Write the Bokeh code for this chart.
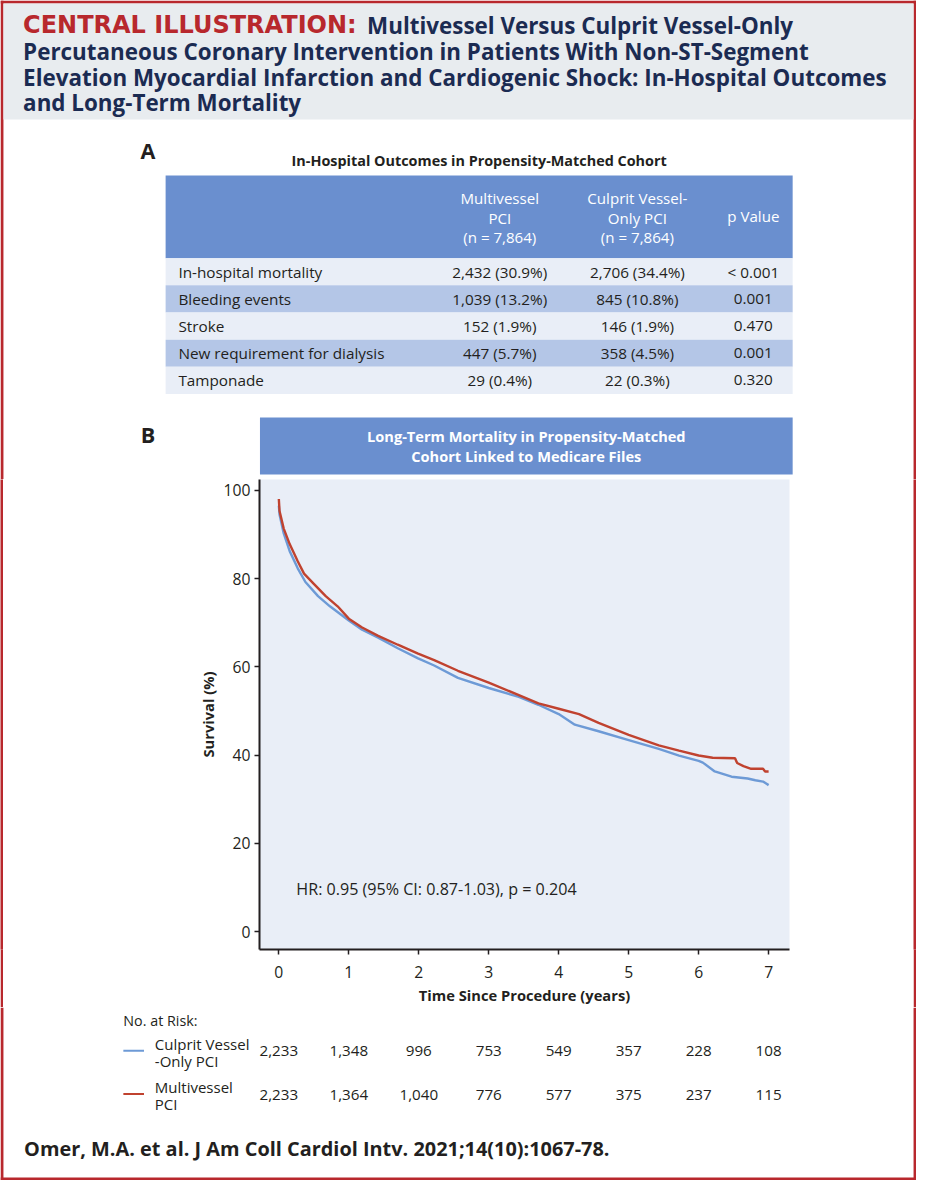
from bokeh.plotting import figure
from bokeh.models import Range1d, FixedTicker
from bokeh.layouts import column, row
from bokeh.core.properties import value
from bokeh.embed import file_html
from bokeh.resources import INLINE

# ---------------- data ----------------
title_red = "CENTRAL ILLUSTRATION:"
title_lines = [
    "Multivessel Versus Culprit Vessel-Only",
    "Percutaneous Coronary Intervention in Patients With Non-ST-Segment",
    "Elevation Myocardial Infarction and Cardiogenic Shock: In-Hospital Outcomes",
    "and Long-Term Mortality",
]
table_title = "In-Hospital Outcomes in Propensity-Matched Cohort"
header_multi = ["Multivessel", "PCI", "(n = 7,864)"]
header_culprit = ["Culprit Vessel-", "Only PCI", "(n = 7,864)"]
header_p = "p Value"
outcomes = ["In-hospital mortality", "Bleeding events", "Stroke",
            "New requirement for dialysis", "Tamponade"]
multivessel_vals = ["2,432 (30.9%)", "1,039 (13.2%)", "152 (1.9%)", "447 (5.7%)", "29 (0.4%)"]
culprit_vals = ["2,706 (34.4%)", "845 (10.8%)", "146 (1.9%)", "358 (4.5%)", "22 (0.3%)"]
p_values = ["< 0.001", "0.001", "0.470", "0.001", "0.320"]

km_title = ["Long-Term Mortality in Propensity-Matched", "Cohort Linked to Medicare Files"]

time_mv = [0, 0.01, 0.07, 0.155, 0.27, 0.36, 0.5, 0.67, 0.84, 1.0, 1.19, 1.42, 1.7, 1.99,
           2.22, 2.56, 3.0, 3.43, 3.71, 4.0, 4.29, 4.57, 5.0, 5.43, 5.72, 6.0, 6.2, 6.52,
           6.55, 6.64, 6.75, 6.92, 6.95, 7.0]
surv_mv = [98.0, 95.3, 91.3, 87.8, 83.9, 81.1, 78.8, 76.0, 73.7, 70.9, 68.9, 67.0, 65.0, 63.0,
           61.5, 59.1, 56.4, 53.6, 51.7, 50.5, 49.3, 47.3, 44.6, 42.2, 41.0, 39.9, 39.4, 39.3,
           38.2, 37.5, 36.9, 36.9, 36.3, 36.3]
time_cv = [0, 0.01, 0.07, 0.155, 0.27, 0.38, 0.56, 0.73, 1.0, 1.19, 1.42, 1.7, 1.99, 2.22,
           2.56, 3.0, 3.43, 3.71, 4.0, 4.23, 4.57, 5.0, 5.43, 5.72, 6.0, 6.06, 6.23, 6.47,
           6.7, 6.81, 6.92, 6.97, 7.0]
surv_cv = [96.5, 94.5, 90.2, 86.2, 82.3, 79.2, 76.0, 73.7, 70.5, 68.4, 66.6, 64.2, 61.9, 60.3,
           57.5, 55.2, 53.2, 51.4, 49.3, 46.9, 45.4, 43.4, 41.4, 39.9, 38.7, 38.3, 36.3, 35.1,
           34.7, 34.3, 34.0, 33.5, 33.2]

x_ticks = [0, 1, 2, 3, 4, 5, 6, 7]
y_ticks = [0, 20, 40, 60, 80, 100]
risk_times = [0, 1, 2, 3, 4, 5, 6, 7]
risk_cv = ["2,233", "1,348", "996", "753", "549", "357", "228", "108"]
risk_mv = ["2,233", "1,364", "1,040", "776", "577", "375", "237", "115"]
risk_labels_cv = ["Culprit Vessel", "-Only PCI"]
risk_labels_mv = ["Multivessel", "PCI"]
hr_text = "HR: 0.95 (95% CI: 0.87-1.03), p = 0.204"
citation = "Omer, M.A. et al. J Am Coll Cardiol Intv. 2021;14(10):1067-78."

# ---------------- style ----------------
FONT = value("Open Sans")
RED = "#b8282d"
NAVY = "#1b2b52"
BAND = "#e8ecef"
HEAD_BLUE = "#6a8fcf"
ROW_LIGHT = "#e9eef7"
ROW_DARK = "#b4c6e7"
PLOT_BG = "#e9eef7"
INK = "#231f20"
C_MV = "#c0422f"
C_CV = "#6d9ad6"

W = 916
S = W / 932.0


def fs(px):
    return "%.1fpx" % (px * S)


def blank(width, height, xr, yr, **kw):
    p = figure(width=width, height=height, x_range=xr, y_range=yr,
               output_backend="svg", toolbar_location=None,
               x_axis_type=None, y_axis_type=None, outline_line_color=None,
               min_border=0, background_fill_color="white", border_fill_color="white", **kw)
    p.grid.visible = False
    return p


def txt(p, x, y, t, size, color=INK, bold=False, align="left", font=FONT, **kw):
    p.text(x=x, y=y, text=t, text_font=font, text_font_size=fs(size),
           text_font_style="bold" if bold else "normal", text_color=color,
           text_align=align, text_baseline="middle", **kw)


# ---------------- top figure: title + table A + panel B title ----------------
H1_REF = 487
f1 = blank(W, round(H1_REF * S), Range1d(0, 932), Range1d(H1_REF, 0))
f1.quad(left=[0, 929, 0], right=[3, 932, 932], top=[0, 0, 0], bottom=[H1_REF, H1_REF, 3],
        fill_color=RED, line_color=None)
f1.quad(left=[3], right=[929], top=[3], bottom=[121], fill_color=BAND, line_color=None)

txt(f1, [23], [25], [title_red], 24.4, RED, True, font=value("DejaVu Sans"))
txt(f1, [373, 23, 23, 23], [25, 51.5, 78, 104], title_lines, 22.8, NAVY, True)

txt(f1, [150], [152], ["A"], 22, INK, True, "center")
txt(f1, [487], [163], [table_title], 14.7, INK, True, "center")

TL, TR = 168, 806
HEAD_T, HEAD_B = 178, 262
ROW_H = 27.6
col_x = [508, 648, 766]
f1.quad(left=[TL], right=[TR], top=[HEAD_T], bottom=[HEAD_B], fill_color=HEAD_BLUE, line_color=None)
tops = [HEAD_B + i * ROW_H for i in range(len(outcomes))]
f1.quad(left=[TL] * len(outcomes), right=[TR] * len(outcomes), top=tops,
        bottom=[t + ROW_H for t in tops],
        fill_color=[ROW_LIGHT if i % 2 == 0 else ROW_DARK for i in range(len(outcomes))],
        line_color=None)
hy = [201, 221, 240.5]
txt(f1, [col_x[0]] * 3, hy, header_multi, 15.4, "white", False, "center")
txt(f1, [col_x[1]] * 3, hy, header_culprit, 15.4, "white", False, "center")
txt(f1, [col_x[2]], [219], [header_p], 15.4, "white", False, "center")
ry = [t + ROW_H / 2 for t in tops]
txt(f1, [181] * len(outcomes), ry, outcomes, 15.6)
txt(f1, [col_x[0]] * len(outcomes), ry, multivessel_vals, 15.6, align="center")
txt(f1, [col_x[1]] * len(outcomes), ry, culprit_vals, 15.6, align="center")
txt(f1, [col_x[2]] * len(outcomes), ry, p_values, 15.6, align="center")

txt(f1, [150], [441], ["B"], 22, INK, True, "center")
f1.quad(left=[264], right=[806], top=[424], bottom=[482], fill_color=HEAD_BLUE, line_color=None)
txt(f1, [535, 535], [443, 463], km_title, 14.9, "white", True, "center")

# ---------------- KM figure ----------------
F2_TOP, F2_BOT = 487, 1024
H2 = round((F2_BOT - F2_TOP) * S)
W2 = W - 6
ML = round((263 - 3) * S)
MR = round((929 - 803) * S)
MB = H2 - round((970 - F2_TOP) * S)
T0_PX, PPY = 282.7, 71.29
x0 = (263 - T0_PX) / PPY
x1 = (803 - T0_PX) / PPY
Y0_PX, PPU = 951.7, 4.537
y0 = (Y0_PX - 970) / PPU
y1 = (Y0_PX - 487) / PPU

f2 = figure(width=W2, height=H2, x_range=Range1d(x0, x1), y_range=Range1d(y0, y1),
            output_backend="svg", toolbar_location=None,
            min_border_left=ML, min_border_right=MR, min_border_top=0, min_border_bottom=MB,
            background_fill_color=PLOT_BG, border_fill_color="white", outline_line_color=None,
            x_axis_label="Time Since Procedure (years)", y_axis_label="Survival (%)")
f2.grid.visible = False
f2.xaxis.ticker = FixedTicker(ticks=x_ticks)
f2.yaxis.ticker = FixedTicker(ticks=y_ticks)
for ax in (f2.xaxis, f2.yaxis):
    ax.axis_line_width = 2
    ax.axis_line_color = INK
    ax.major_tick_line_color = INK
    ax.major_tick_line_width = 1.5
    ax.major_tick_out = 5
    ax.major_tick_in = 0
    ax.minor_tick_out = 0
    ax.minor_tick_in = 0
    ax.major_label_text_font = "Open Sans"
    ax.major_label_text_font_size = fs(16)
    ax.major_label_text_color = INK
    ax.axis_label_text_font = "Open Sans"
    ax.axis_label_text_font_size = fs(15)
    ax.axis_label_text_font_style = "bold"
    ax.axis_label_text_color = INK
f2.xaxis.major_label_standoff = 11
f2.yaxis.major_label_standoff = 4
f2.xaxis.axis_label_standoff = 4
f2.yaxis.axis_label_standoff = 3

f2.line(time_cv, surv_cv, line_color=C_CV, line_width=2.4)
f2.line(time_mv, surv_mv, line_color=C_MV, line_width=2.4)
txt(f2, [0.25], [9.6], [hr_text], 16.4)

strip_l = blank(3, H2, Range1d(0, 1), Range1d(0, 1))
strip_l.background_fill_color = RED
strip_l.border_fill_color = RED
strip_r = blank(3, H2, Range1d(0, 1), Range1d(0, 1))
strip_r.background_fill_color = RED
strip_r.border_fill_color = RED

# ---------------- number-at-risk + citation ----------------
H3 = 1180 - round(F2_TOP * S) - H2
fr_l = 3 + ML
fr_w = W2 - ML - MR
t_left = x0 - fr_l * (x1 - x0) / fr_w
t_right = x0 + (W - fr_l) * (x1 - x0) / fr_w
f3 = blank(W, H3, Range1d(0, 932), Range1d(1200, F2_BOT),
           extra_x_ranges={"yrs": Range1d(t_left, t_right)})
f3.quad(left=[0, 929, 0], right=[3, 932, 932], top=[F2_BOT, F2_BOT, 1197], bottom=[1200, 1200, 1200],
        fill_color=RED, line_color=None)
txt(f3, [125], [1037], ["No. at Risk:"], 14.5)
f3.multi_line(xs=[[125, 146], [125, 146]], ys=[[1068, 1068], [1112, 1112]],
              line_color=[C_CV, C_MV], line_width=2)
txt(f3, [157, 157], [1061.5, 1078.5], risk_labels_cv, 15.3)
txt(f3, [157, 157], [1105, 1122], risk_labels_mv, 15.3)
txt(f3, risk_times, [1068] * len(risk_times), risk_cv, 15.5, align="center", x_range_name="yrs")
txt(f3, risk_times, [1113] * len(risk_times), risk_mv, 15.5, align="center", x_range_name="yrs")
txt(f3, [24], [1167], [citation], 20.2, INK, True)

layout = column(f1, row(strip_l, f2, strip_r, spacing=0), f3, spacing=0)

with open("out.html", "w") as fh:
    fh.write(file_html(layout, INLINE))
